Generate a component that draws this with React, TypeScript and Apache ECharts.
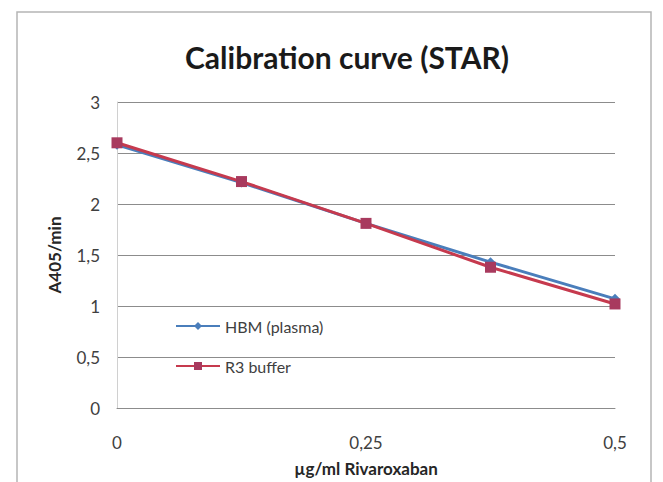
import React, { useEffect, useRef } from "react";
import * as echarts from "echarts";

const xValues = [0, 0.125, 0.25, 0.375, 0.5];
const hbmPlasma = [2.58, 2.21, 1.81, 1.43, 1.07];
const r3Buffer = [2.6, 2.22, 1.81, 1.38, 1.02];
const seriesNames = ["HBM (plasma)", "R3 buffer"];

const FONT = "Lato, 'Open Sans', sans-serif";
const fmt = (v: number) => String(v).replace(".", ",");

export default function App() {
  const ref = useRef<HTMLDivElement>(null);
  useEffect(() => {
    if (!ref.current) return;
    const chart = echarts.init(ref.current, undefined, { renderer: "svg" });
    chart.setOption({
      animation: false,
      backgroundColor: "#ffffff",
      textStyle: { fontFamily: FONT },
      title: {
        text: "Calibration curve (STAR)",
        left: 172,
        top: 29,
        textStyle: { fontFamily: FONT, fontSize: 30, fontWeight: "bold", color: "#1a1a1a" },
      },
      graphic: [
        {
          type: "rect",
          shape: { x: 9, y: 4, width: 634, height: 500 },
          style: { fill: "none", stroke: "#b5b5b5", lineWidth: 1.5 },
          silent: true,
        },
      ],
      legend: {
        orient: "vertical",
        left: 162,
        top: 305,
        itemGap: 24,
        itemWidth: 44,
        itemHeight: 10,
        textStyle: { fontFamily: FONT, fontSize: 16, color: "#404040" },
        data: seriesNames,
      },
      grid: { left: 109, right: 40, top: 94, bottom: 74, outerBoundsMode: "none" },
      xAxis: {
        type: "value",
        min: 0,
        max: 0.5,
        interval: 0.25,
        name: "µg/ml Rivaroxaban",
        nameLocation: "middle",
        nameGap: 52,
        nameTextStyle: { fontFamily: FONT, fontSize: 17, fontWeight: "bold", color: "#262626" },
        axisLine: { show: true, lineStyle: { color: "#8c8c8c" } },
        axisTick: { show: false },
        splitLine: { show: false },
        axisLabel: { margin: 26, fontSize: 17, color: "#404040", formatter: fmt },
      },
      yAxis: {
        type: "value",
        min: 0,
        max: 3,
        interval: 0.5,
        name: "A405/min",
        nameLocation: "middle",
        nameGap: 54,
        nameRotate: 90,
        nameTextStyle: { fontFamily: FONT, fontSize: 17, fontWeight: "bold", color: "#262626" },
        axisLine: { show: true, lineStyle: { color: "#d0d0d0" } },
        axisTick: { show: false },
        splitLine: { show: true, lineStyle: { color: "#8c8c8c", width: 1 } },
        axisLabel: { margin: 17, fontSize: 17, color: "#404040", formatter: fmt },
      },
      series: [
        {
          name: seriesNames[0],
          type: "line",
          data: xValues.map((x, i) => [x, hbmPlasma[i]]),
          symbol: "diamond",
          symbolSize: 10,
          lineStyle: { color: "#4a7ebb", width: 3 },
          itemStyle: { color: "#4a7ebb" },
          z: 2,
        },
        {
          name: seriesNames[1],
          type: "line",
          data: xValues.map((x, i) => [x, r3Buffer[i]]),
          symbol: "rect",
          symbolSize: 11,
          lineStyle: { color: "#c63a4e", width: 3 },
          itemStyle: { color: "#a83a5e" },
          z: 3,
        },
      ],
    });
    return () => chart.dispose();
  }, []);
  return <div ref={ref} style={{ width: 647, height: 474 }} />;
}
